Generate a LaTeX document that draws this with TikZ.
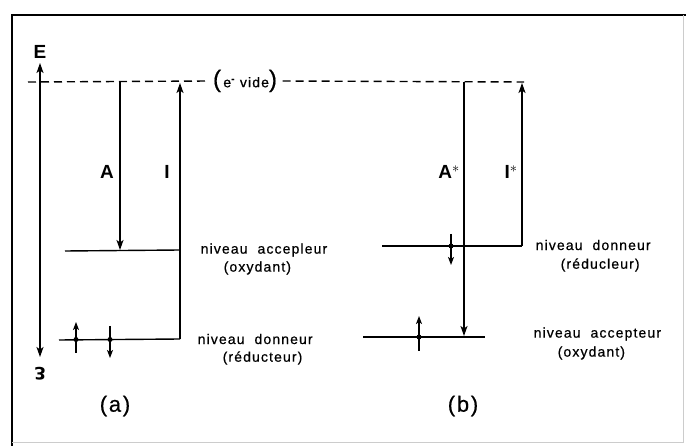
\documentclass[tikz,border=0pt]{standalone}
\usepackage{fontspec}
\setmainfont{Liberation Sans}
\newfontfamily\spacedfont[LetterSpace=8, FakeBold=0.6]{Liberation Sans}
\newfontfamily\greekfont{DejaVu Sans}
\usetikzlibrary{arrows.meta,positioning}

\begin{document}
\begin{tikzpicture}[x=1pt, y=-1pt,
    >={Stealth[length=10pt,width=7pt,inset=2.5pt]}, line width=1.4pt,
    vac/.style={dash pattern=on 8pt off 5pt},
    lab/.style={font=\fontsize{19}{22}\selectfont\bfseries, inner sep=0pt},
    txt/.style={font=\fontsize{14}{16}\selectfont\spacedfont, inner sep=0pt, anchor=west},
    legende/.style={font=\fontsize{22}{24}\selectfont\spacedfont, inner sep=0pt},
    spin/.style={-{Stealth[length=8pt,width=6pt,inset=2pt]}, line width=1.3pt},
    dot/.style={circle, fill, inner sep=0pt, minimum size=5pt}]

    \useasboundingbox (0,0) rectangle (686,446);

    % === cadre ===
    \draw (12,446) -- (12,15) -- (686,15);
    \draw[black!20, line width=0.6pt] (683,15) -- (683,442) -- (12,442);

    % === axe des energies ===
    \coordinate (Etop) at (40,63);
    \coordinate (Ebot) at (40,357);
    \node[lab] (E) at (40,52) {E};
    \node[font=\fontsize{17}{20}\selectfont\greekfont\bfseries, inner sep=0pt, rotate=180] (eps) at (40,374) {Ɛ};
    \draw[<->] (Etop) -- (Ebot);

    % === niveau du vide ===
    \node[font=\fontsize{14}{16}\selectfont\spacedfont, inner sep=0pt] (vide) at (245,81)
        {{\fontsize{24}{24}\selectfont(}\,e\textsuperscript{\bfseries -}\ vide{\fontsize{24}{24}\selectfont)}};
    \coordinate (vl) at (28,82);
    \coordinate (vr) at (524,82);
    \draw[vac] (vl) -- ([xshift=-3pt]vide.west);
    \draw[vac] ([xshift=5pt]vide.east) -- (vr);

    % === (a) ===
    \coordinate (accA1) at (65,251);
    \coordinate (accA2) at (180,250);
    \coordinate (donA1) at (59,340);
    \coordinate (donA2) at (180,339);
    \coordinate (Atop) at (120,82);
    \coordinate (Abot) at (120,250);
    \coordinate (Itop) at (180,83);

    \draw (accA1) -- (accA2);
    \draw (donA1) -- (donA2);
    \draw[->] (Atop) -- (Abot);
    \draw[->] (donA2) -- (Itop);
    \node[lab] (A) at (107,172) {A};
    \node[lab] (I) at (167,172) {I};

    % spins
    \node[dot] (sa1) at (76,339.5) {};
    \node[dot] (sa2) at (110,339.5) {};
    \coordinate (sa1b) at (76,353);
    \coordinate (sa1t) at (76,322);
    \coordinate (sa2t) at (110,326);
    \coordinate (sa2b) at (110,358);
    \draw[spin] (sa1b) -- (sa1t);
    \draw[spin] (sa2t) -- (sa2b);

    \node[txt] (accAtxt) at (200,250) {niveau\ \ accepleur};
    \node[txt] (oxA) at (223,268) {(oxydant)};
    \node[txt] (donAtxt) at (197,339) {niveau\ \ donneur};
    \node[txt] (redA) at (222,358) {(réducteur)};
    \node[legende] (capA) at (115,406) {(a)};

    % === (b) ===
    \coordinate (donB1) at (382,246);
    \coordinate (donB2) at (522,246);
    \coordinate (accB1) at (363,337);
    \coordinate (accB2) at (485,337);
    \coordinate (Astop) at (464,82);
    \coordinate (Asbot) at (464,336);
    \coordinate (Istop) at (522,83);

    \draw (donB1) -- (donB2);
    \draw (accB1) -- (accB2);
    \draw[->] (Astop) -- (Asbot);
    \draw[->] (donB2) -- (Istop);
    \node[lab] (As) at (449,172) {A$^{\ast}$};
    \node[lab] (Is) at (511,172) {I$^{\ast}$};

    % spins
    \node[dot] (sb1) at (451,246) {};
    \node[dot] (sb2) at (419,337) {};
    \coordinate (sb1t) at (451,234);
    \coordinate (sb1b) at (451,265);
    \coordinate (sb2b) at (419,351);
    \coordinate (sb2t) at (419,316);
    \draw[spin] (sb1t) -- (sb1b);
    \draw[spin] (sb2b) -- (sb2t);

    \node[txt] (donBtxt) at (535,245) {niveau\ \ donneur};
    \node[txt] (redB) at (560,265) {(réducleur)};
    \node[txt] (accBtxt) at (533,334) {niveau\ \ accepteur};
    \node[txt] (oxB) at (557,353) {(oxydant)};
    \node[legende] (capB) at (463,406) {(b)};

\end{tikzpicture}
\end{document}
